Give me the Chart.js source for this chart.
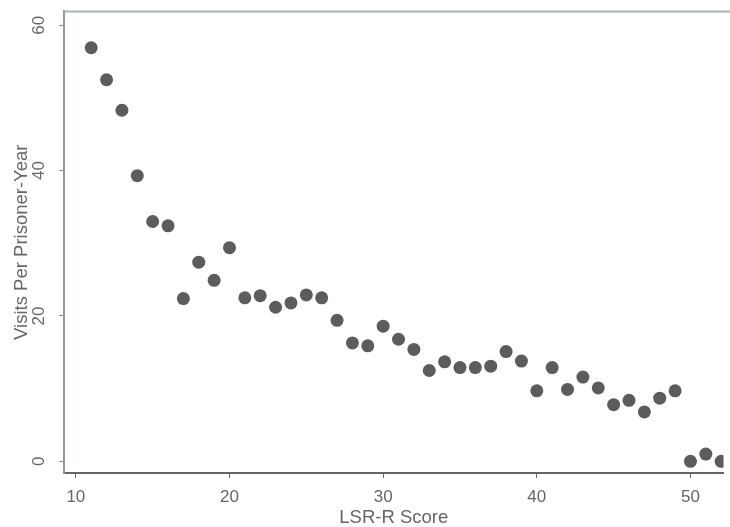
<!DOCTYPE html>
<html>
<head>
<meta charset="utf-8">
<script src="https://cdn.jsdelivr.net/npm/chart.js@4/dist/chart.umd.min.js"></script>
<style>
  html, body { margin: 0; padding: 0; background: #fff; }
  #wrap { width: 730px; height: 527px; }
</style>
</head>
<body>
<div id="wrap"><canvas id="c" width="730" height="527"></canvas></div>
<script>
// LSR-R score vs visits per prisoner-year
const scores = [11,12,13,14,15,16,17,18,19,20,21,22,23,24,25,26,27,28,29,30,31,
                32,33,34,35,36,37,38,39,40,41,42,43,44,45,46,47,48,49,50,51,52];
const visits = [56.9,52.5,48.3,39.3,33.0,32.4,22.4,27.4,24.9,29.4,22.5,22.8,21.2,21.8,22.9,22.5,19.4,16.3,15.9,18.6,16.8,
                15.4,12.5,13.7,12.9,12.9,13.1,15.1,13.8,9.7,12.9,9.9,11.6,10.1,7.8,8.4,6.8,8.7,9.7,0.0,1.0,0.0];
const xTicks = [10, 20, 30, 40, 50];
const yTicks = [0, 20, 40, 60];

const fontFam = '"Liberation Sans", Arial, sans-serif';
const textCol = '#666';

// y tick labels are rotated like in Stata, draw them ourselves
const rotYLabels = {
  id: 'rotYLabels',
  afterDraw(chart) {
    const ctx = chart.ctx, y = chart.scales.y, area = chart.chartArea;
    ctx.save();
    // top outline of the plot region
    ctx.strokeStyle = '#aab6ac';
    ctx.lineWidth = 2;
    ctx.beginPath();
    ctx.moveTo(area.left, area.top);
    ctx.lineTo(chart.width, area.top);
    ctx.stroke();
    ctx.fillStyle = textCol;
    ctx.font = '17px ' + fontFam;
    ctx.textAlign = 'center';
    ctx.textBaseline = 'middle';
    yTicks.forEach(v => {
      const py = y.getPixelForValue(v);
      ctx.save();
      ctx.translate(39, py);
      ctx.rotate(-Math.PI / 2);
      ctx.fillText(String(v), 0, 0);
      ctx.restore();
    });
    ctx.restore();
  }
};

new Chart(document.getElementById('c'), {
  type: 'scatter',
  data: {
    datasets: [{
      data: scores.map((s, i) => ({x: s, y: visits[i]})),
      pointRadius: 6.5,
      pointBackgroundColor: '#5c5c5c',
      pointBorderWidth: 0,
      pointHoverRadius: 6.5
    }]
  },
  options: {
    responsive: false,
    animation: false,
    layout: { padding: { top: 10, right: 0, left: 0, bottom: 0 } },
    plugins: { legend: { display: false }, tooltip: { enabled: false } },
    scales: {
      x: {
        type: 'linear',
        min: 9.23,
        max: 52.15,
        afterBuildTicks: s => { s.ticks = xTicks.map(v => ({value: v})); },
        afterFit: s => { s.height = 54; },
        grid: { drawOnChartArea: false, tickLength: 5, color: '#666', tickWidth: 1 },
        border: { display: true, color: '#666', width: 2 },
        ticks: { color: textCol, font: { family: fontFam, size: 17, lineHeight: 1 }, padding: 11, maxRotation: 0 },
        title: { display: true, text: 'LSR-R Score', color: textCol,
                 font: { family: fontFam, size: 18.5, lineHeight: 1 }, padding: { top: 0, bottom: 0 } }
      },
      y: {
        type: 'linear',
        min: -1.6,
        max: 61.9,
        afterBuildTicks: s => { s.ticks = yTicks.map(v => ({value: v})); },
        afterFit: s => { s.width = 64; },
        grid: { drawOnChartArea: false, tickLength: 5, color: '#7f8b81', tickWidth: 1 },
        border: { display: true, color: '#8e9a90', width: 2 },
        ticks: { color: 'rgba(0,0,0,0)', font: { family: fontFam, size: 14 } },
        title: { display: true, text: 'Visits Per Prisoner-Year', color: textCol,
                 font: { family: fontFam, size: 18.5, lineHeight: 1 }, padding: { top: 13, bottom: 0 } }
      }
    }
  },
  plugins: [rotYLabels]
});
</script>
</body>
</html>
